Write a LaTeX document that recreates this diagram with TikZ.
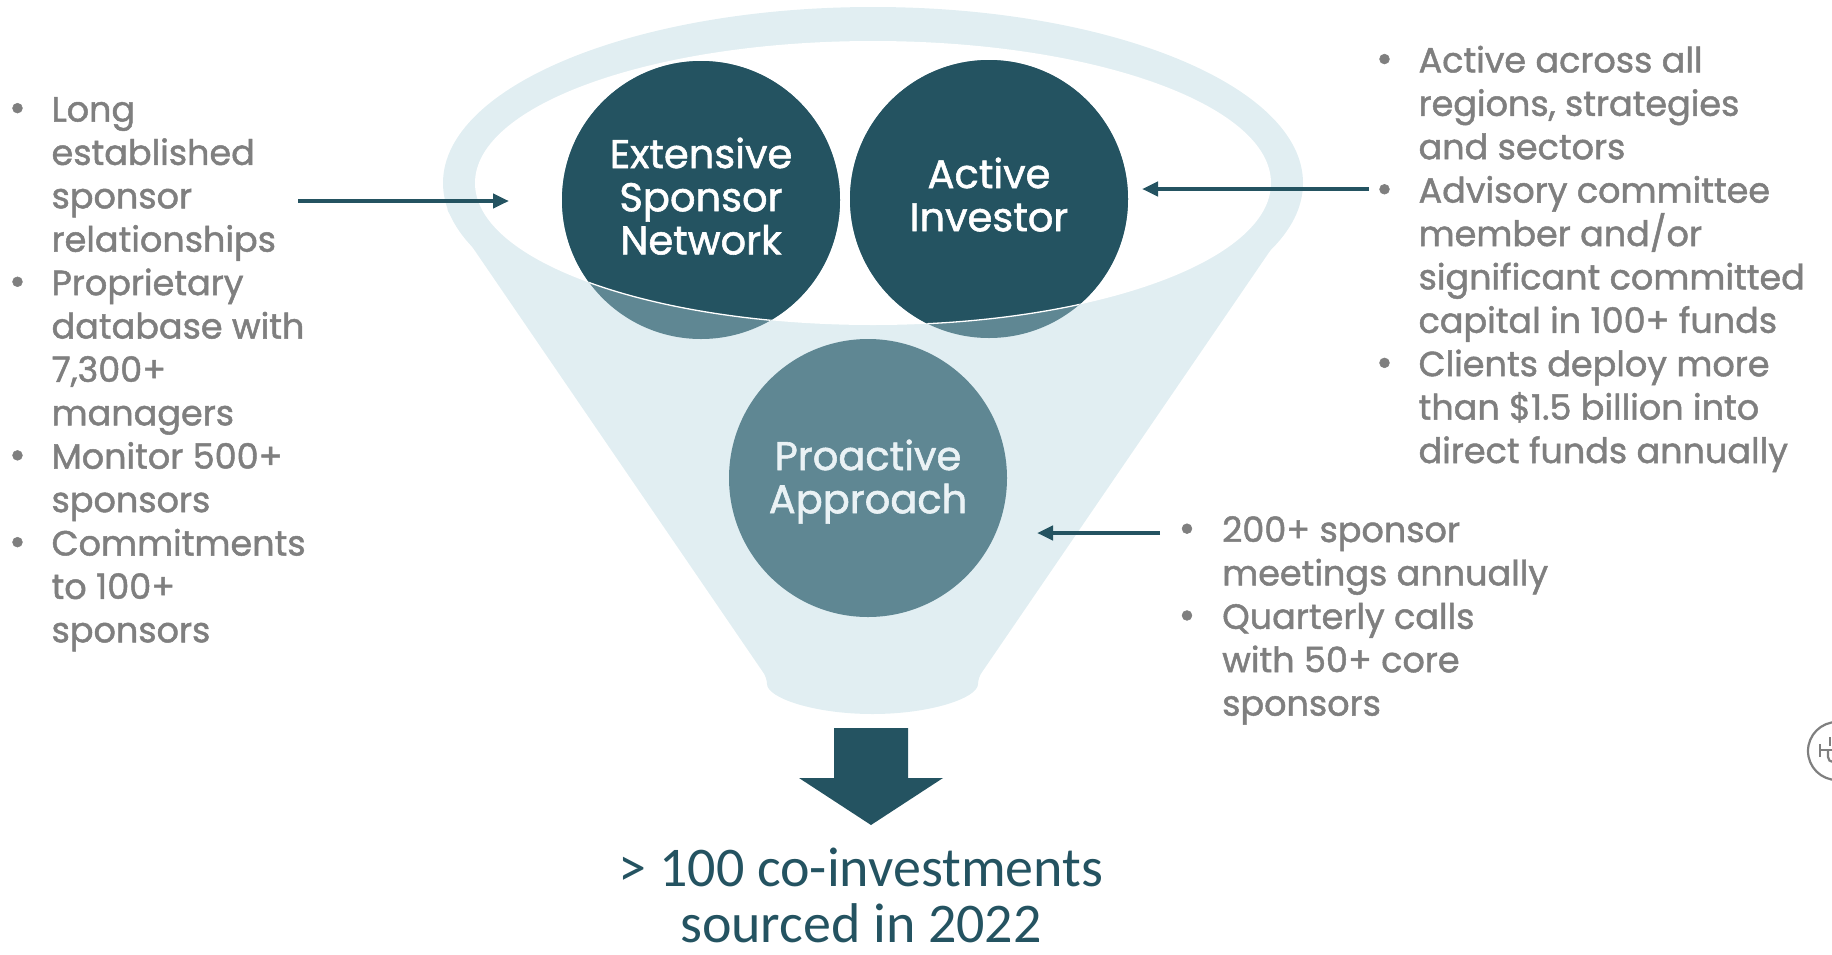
\documentclass[tikz,border=0pt]{standalone}
\usepackage{fontspec}
\setmainfont{Poppins}[RawFeature={embolden=1.4}]
\newfontfamily\carlitofont{Carlito}
\usetikzlibrary{arrows.meta}
\definecolor{darkteal}{HTML}{245361}
\definecolor{midteal}{HTML}{5F8793}
\definecolor{funnelc}{HTML}{E1EEF2}
\definecolor{graytext}{HTML}{7F7F7F}
\definecolor{paletext}{HTML}{EAF2F5}
\tikzset{
  btext/.style={anchor=base west, text=graytext, font=\fontsize{35}{43}\selectfont, inner sep=0pt},
  bdot/.style={anchor=base, text=graytext, font=\fontsize{40}{40}\selectfont, inner sep=0pt},
  clabel/.style={anchor=base, font=\fontsize{40}{43}\selectfont, inner sep=0pt},
  pointer/.style={draw=darkteal, line width=4pt, -{Triangle[length=16pt,width=14pt]}},
  bottomtext/.style={anchor=base, text=darkteal, font=\carlitofont\fontsize{56}{61}\selectfont, inner sep=0pt, text depth=0pt},
}
\begin{document}
\begin{tikzpicture}[x=1pt,y=-1pt]
\useasboundingbox (0,0) rectangle (1832,954);
% funnel
\fill[funnelc] (873,183) ellipse [x radius=430, y radius=176];
\fill[funnelc, rounded corners=6pt] (445,207) -- (767,678) arc[start angle=180, end angle=0, x radius=105.5, y radius=36] -- (1300,207) -- cycle;
\fill[white] (873,183) ellipse [x radius=398, y radius=142];
% circles
\coordinate (esn) at (701,200);
\coordinate (ai) at (989,199);
\coordinate (pa) at (868,478);
\fill[midteal] (esn) circle[radius=139];
\fill[midteal] (ai) circle[radius=139];
\fill[midteal] (pa) circle[radius=139];
\begin{scope}
  \clip (873,183) ellipse [x radius=398, y radius=142];
  \fill[darkteal] (esn) circle[radius=139];
  \fill[darkteal] (ai) circle[radius=139];
\end{scope}
\begin{scope}
  \clip (esn) circle[radius=139] (ai) circle[radius=139];
  \draw[white, line width=1.3pt] (873,183) ellipse [x radius=398, y radius=142];
\end{scope}
% circle labels
\node[clabel, text=white] (e1) at (701,168) {Extensive};
\node[clabel, text=white] (e2) at (701,211.2) {Sponsor};
\node[clabel, text=white] (e3) at (701,254.4) {Network};
\node[clabel, text=white] (a1) at (989,188) {Active};
\node[clabel, text=white] (a2) at (989,231.2) {Investor};
\node[clabel, text=paletext] (p1) at (868,470) {Proactive};
\node[clabel, text=paletext] (p2) at (868,513.2) {Approach};
% pointers
\coordinate (lA) at (298,201); \coordinate (lB) at (509,201);
\coordinate (rA) at (1369,189); \coordinate (rB) at (1142,189);
\coordinate (qA) at (1160,533); \coordinate (qB) at (1037,533);
\draw[pointer] (lA) -- (lB);
\draw[pointer] (rA) -- (rB);
\draw[pointer] (qA) -- (qB);
% down arrow
\fill[darkteal] (834,728) -- (908,728) -- (908,778) -- (943,778) -- (871,825) -- (799,778) -- (834,778) -- cycle;
\node[bottomtext] (b1) at (861,886) {> 100 co-investments};
\node[bottomtext] (b2) at (861,942) {sourced in 2022};
% left text
\foreach \i/\t in {0/Long,1/established,2/sponsor,3/relationships,4/Proprietary,5/database with,6/{7,300+},7/managers,8/Monitor 500+,9/sponsors,10/Commitments,11/to 100+,12/sponsors}{
  \node[btext] (L\i) at (51.4,121.5+43.4*\i) {\t};
}
\foreach \i in {0,4,8,10}{\node[bdot] (LD\i) at (17.5,121.5+43.4*\i) {•};}
% right top text
\foreach \i/\t in {0/Active across all,1/{regions, strategies},2/and sectors,3/Advisory committee,4/{member and/or},5/significant committed,6/capital in 100+ funds,7/Clients deploy more,8/than \$1.5 billion into,9/direct funds annually}{
  \node[btext] (R\i) at (1418.4,72.4+43.4*\i) {\t};
}
\foreach \i in {0,3,7}{\node[bdot] (RD\i) at (1384.5,72.4+43.4*\i) {•};}
% right bottom text
\foreach \i/\t in {0/200+ sponsor,1/meetings annually,2/Quarterly calls,3/with 50+ core,4/sponsors}{
  \node[btext] (S\i) at (1222,542+43.4*\i) {\t};
}
\foreach \i in {0,2}{\node[bdot] (SD\i) at (1187,542+43.4*\i) {•};}
% logo at edge
\coordinate (logo) at (1837,751);
\draw[graytext, line width=2.2pt] (logo) circle[radius=29];
\draw[graytext, line width=2.2pt] (1820,744) -- (1820,757) (1820,750) -- (1834,750) (1830,737) -- (1830,746);
\draw[graytext, line width=2.2pt] (1828,750) -- (1828,757) arc[start angle=180, end angle=90, radius=5];
\end{tikzpicture}
\end{document}
